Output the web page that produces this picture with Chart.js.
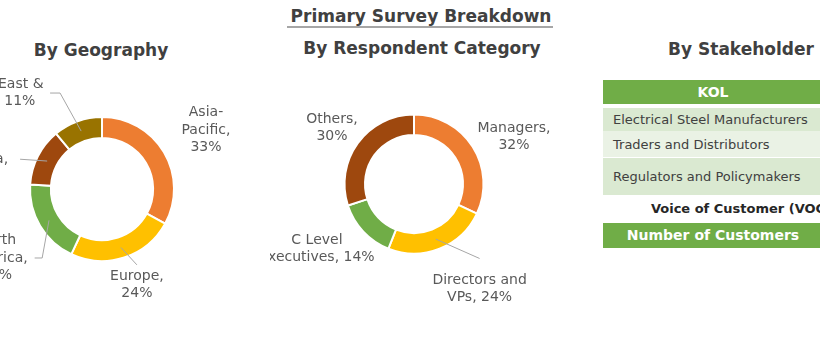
<!DOCTYPE html>
<html>
<head>
<meta charset="utf-8">
<script src="https://cdn.jsdelivr.net/npm/chart.js@4.4.0/dist/chart.umd.min.js"></script>
<style>
  html, body { margin: 0; padding: 0; background: #fff; }
  body { width: 820px; height: 350px; overflow: hidden; position: relative;
         font-family: "DejaVu Sans", Verdana, sans-serif; }
  .ttl { position: absolute; white-space: nowrap; font-weight: bold; color: #404040;
         font-size: 17px; line-height: 20px; transform: translateX(-50%); }
  .rule { position: absolute; left: 287px; top: 26px; width: 266px; height: 2px; background: #a6a6a6; }
  .cv { position: absolute; }
  .bar { position: absolute; left: 603px; width: 230px; background: #70ad47; }
  .bar span { position: absolute; left: 0; width: 220px; text-align: center; color: #fff;
              font-weight: bold; font-size: 14px; }
  .row { position: absolute; left: 603px; width: 230px; color: #404040; font-size: 13px;
         display: flex; align-items: center; box-sizing: border-box; padding-left: 10px; white-space: nowrap; }
  .voc { position: absolute; left: 741px; top: 200px; transform: translateX(-50%); white-space: nowrap;
         font-weight: bold; font-size: 13px; color: #262626; line-height: 17px; }
</style>
</head>
<body>
<div class="ttl" style="left:421px;top:6px;">Primary Survey Breakdown</div>
<div class="rule"></div>
<div class="ttl" style="left:101px;top:40px;">By Geography</div>
<div class="ttl" style="left:422px;top:38px;">By Respondent Category</div>
<div class="ttl" style="left:741px;top:39px;">By Stakeholder</div>

<canvas id="geo" class="cv" style="left:-130px;top:50px;" width="430" height="290"></canvas>
<canvas id="resp" class="cv" style="left:270px;top:50px;" width="300" height="290"></canvas>

<div id="stake"></div>

<script>
// Share of primary interviews by region (%)
const geoCategories = ['Asia-\nPacific', 'Europe', 'North\nAmerica', 'Latin\nAmerica', 'Middle East &\nAfrica'];
const geoShares = [33, 24, 19, 13, 11];
const geoColors = ['#ed7d31', '#ffc000', '#70ad47', '#9e480e', '#997300'];

// Share of primary interviews by respondent designation (%)
const respCategories = ['Managers', 'Directors and\nVPs', 'C Level\nExecutives', 'Others'];
const respShares = [32, 24, 14, 30];
const respColors = ['#ed7d31', '#ffc000', '#70ad47', '#9e480e'];

// Stakeholder table
const kolHeader = 'KOL';
const kolRows = ['Electrical Steel Manufacturers', 'Traders and Distributors', 'Regulators and Policymakers'];
const vocTitle = 'Voice of Customer (VOC)';
const vocHeader = 'Number of Customers';

// Outside labels: turn = degrees away from the slice's mid-angle, dist = px from centre
const geoPlacements = [
  { turn: 1,     dist: 119.6, ownLine: true },
  { turn: -2,    dist: 102,   ownLine: true, leader: 'top', gap: 2.5 },
  { turn: -2.6,  dist: 126,   ownLine: true, leader: 'side', gap: 7, elbow: 7.5 },
  { turn: -13.6, dist: 128.5, ownLine: true, leader: 'side', gap: 12, elbow: 0 },
  { turn: -28.2, dist: 143.4, ownLine: false, leader: 'side', gap: 6.5, elbow: 10 }
];
const respPlacements = [
  { turn: 7.2,   dist: 110.5, ownLine: true },
  { turn: -10.4, dist: 123.8, ownLine: false, leader: 'top', gap: 13 },
  { turn: 9.4,   dist: 116.8, ownLine: false },
  { turn: -1.7,  dist: 99.3,  ownLine: true }
];

const sliceLabels = {
  id: 'sliceLabels',
  afterDatasetsDraw(chart, args, opts) {
    const ctx = chart.ctx;
    const meta = chart.getDatasetMeta(0);
    const values = chart.data.datasets[0].data;
    ctx.save();
    ctx.font = opts.font;
    ctx.fillStyle = opts.color;
    ctx.strokeStyle = opts.lineColor;
    ctx.lineWidth = 1;
    ctx.textAlign = 'center';
    ctx.textBaseline = 'middle';
    meta.data.forEach((arc, i) => {
      const p = opts.placements[i];
      const g = arc.getProps(['x', 'y', 'startAngle', 'endAngle', 'innerRadius', 'outerRadius'], true);
      const mid = (g.startAngle + g.endAngle) / 2;
      const a = mid + p.turn * Math.PI / 180;
      const cx = g.x + Math.cos(a) * p.dist;
      const cy = g.y + Math.sin(a) * p.dist;
      const text = chart.data.labels[i] + ',' + (p.ownLine ? '\n' : ' ') + values[i] + '%';
      const lines = text.split('\n');
      const lh = opts.lineHeight;
      const w = Math.max(...lines.map(l => ctx.measureText(l).width));
      const h = lines.length * lh;
      lines.forEach((l, k) => ctx.fillText(l, cx, cy - h / 2 + lh * (k + 0.5)));
      if (p.leader) {
        const rm = (g.innerRadius + g.outerRadius) / 2;
        const sx = g.x + Math.cos(mid) * rm, sy = g.y + Math.sin(mid) * rm;
        ctx.beginPath();
        ctx.moveTo(sx, sy);
        if (p.leader === 'top') {
          ctx.lineTo(cx, cy - h / 2 - p.gap);
        } else {
          const ex = cx + w / 2 + p.gap;
          ctx.lineTo(ex + p.elbow, cy);
          ctx.lineTo(ex, cy);
        }
        ctx.stroke();
      }
    });
    ctx.restore();
  }
};

function ring(id, labels, values, colors, placements, padding, cutout) {
  return new Chart(document.getElementById(id), {
    type: 'doughnut',
    data: {
      labels: labels,
      datasets: [{ data: values, backgroundColor: colors, borderColor: '#ffffff', borderWidth: 2 }]
    },
    options: {
      responsive: false,
      animation: false,
      cutout: cutout,
      layout: { padding: padding },
      plugins: {
        legend: { display: false },
        tooltip: { enabled: false },
        sliceLabels: {
          placements: placements,
          font: '14px "DejaVu Sans"',
          color: '#595959',
          lineColor: '#a6a6a6',
          lineHeight: 17.5
        }
      }
    },
    plugins: [sliceLabels]
  });
}

ring('geo', geoCategories, geoShares, geoColors, geoPlacements,
     { left: 159, top: 66, right: 125, bottom: 78 }, '71%');
ring('resp', respCategories, respShares, respColors, respPlacements,
     { left: 73.5, top: 63.5, right: 85.5, bottom: 85.5 }, '70.5%');

// Stakeholder panel
const stake = document.getElementById('stake');
function add(html) { stake.insertAdjacentHTML('beforeend', html); }
add(`<div class="bar" style="top:80px;height:24px;"><span style="top:0;line-height:24px;">${kolHeader}</span></div>`);
const rowBoxes = [[108, 23, '#dae9d1'], [131, 26, '#eaf2e5'], [158, 37, '#dae9d1']];
kolRows.forEach((t, i) => {
  const [top, h, bg] = rowBoxes[i];
  add(`<div class="row" style="top:${top}px;height:${h}px;background:${bg};">${t}</div>`);
});
add(`<div class="voc">${vocTitle}</div>`);
add(`<div class="bar" style="top:223px;height:25px;"><span style="top:0;line-height:25px;">${vocHeader}</span></div>`);
</script>
</body>
</html>
